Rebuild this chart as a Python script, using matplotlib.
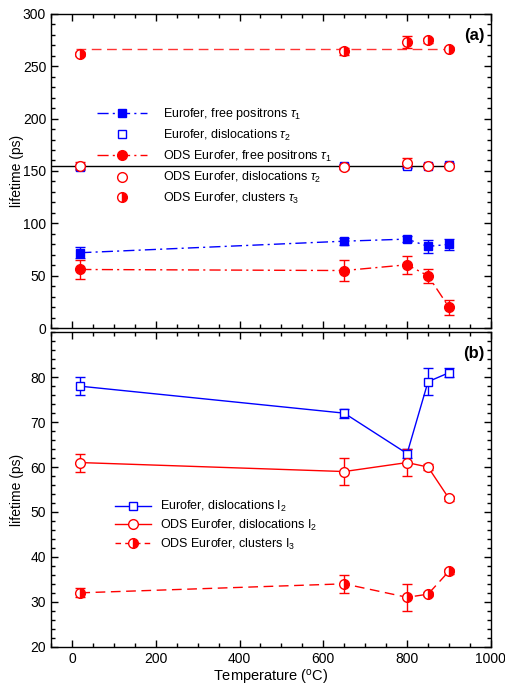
import matplotlib
matplotlib.use('Agg')
import matplotlib.pyplot as plt
from matplotlib.lines import Line2D
from matplotlib.ticker import MultipleLocator

plt.rcParams['font.family'] = ['Liberation Sans', 'DejaVu Sans']
plt.rcParams['mathtext.fontset'] = 'custom'
plt.rcParams['mathtext.rm'] = 'Liberation Sans'
plt.rcParams['mathtext.it'] = 'Liberation Sans:italic'
plt.rcParams['font.size'] = 10

# ---- data ----
temps = [20, 650, 800, 850, 900]

# panel (a): lifetimes (ps)
eu_tau1 = [72, 83, 85, 78, 80]
eu_tau1_err = [5, 3.5, 2.5, 6, 5]
eu_tau2 = [154, 155, 154.5, 155, 156]
eu_tau2_err = [2, 1.5, 2, 1.5, 1.5]
ods_tau1 = [56, 55, 60.5, 50, 20]
ods_tau1_err = [9, 10, 8.5, 6.5, 7]
ods_tau2 = [155, 154, 158, 155, 155]
ods_tau2_err = [4, 2, 4, 1.5, 1]
ods_tau3 = [261.5, 264, 273, 274.5, 266.5]
ods_tau3_err = [2, 3, 5.5, 2, 1.5]
tau2_mean = 155.2
tau3_mean = 266.7

# panel (b): intensities
eu_I2 = [78, 72, 63, 79, 81]
eu_I2_err = [2, 1, 1, 3, 1]
ods_I2 = [61, 59, 61, 60, 53]
ods_I2_err = [2, 3, 3, 0.7, 0.5]
ods_I3 = [32, 34, 31, 31.7, 36.8]
ods_I3_err = [1, 2, 3, 0.5, 0.6]

BLUE = '#0000ff'
RED = '#ff0000'
DASHDOT = (0, (8, 3, 1.5, 3))
DASH = (0, (7, 4))

fig = plt.figure(figsize=(5.05, 6.88), dpi=100)
ax1 = fig.add_axes([0.101, 0.523, 0.871, 0.457])
ax2 = fig.add_axes([0.101, 0.060, 0.871, 0.457])

eb = dict(capsize=3.5, elinewidth=1, capthick=1)

# ---- panel (a) ----
ax1.plot([-50, 910], [tau2_mean] * 2, color='black', lw=1, zorder=1)
ax1.plot([10, 910], [tau3_mean] * 2, color=RED, lw=1, ls=DASH, alpha=0.8, zorder=1)

ax1.errorbar(temps, eu_tau1, yerr=eu_tau1_err, color=BLUE, marker='s', ms=6,
             lw=1, ls=DASHDOT, ecolor=BLUE, **eb)
ax1.errorbar(temps, eu_tau2, yerr=eu_tau2_err, color=BLUE, marker='s', ms=6,
             mfc='white', ls='none', ecolor=BLUE, **eb)
ax1.errorbar(temps, ods_tau1, yerr=ods_tau1_err, color=RED, marker='o', ms=7,
             lw=1, ls=DASHDOT, ecolor=RED, **eb)
ax1.errorbar(temps, ods_tau2, yerr=ods_tau2_err, color=RED, marker='o', ms=7,
             mfc='white', ls='none', ecolor=RED, **eb)
ax1.errorbar(temps, ods_tau3, yerr=ods_tau3_err, color=RED, marker='o', ms=7,
             fillstyle='right', markerfacecoloralt='white', ls='none', ecolor=RED, **eb)

ax1.set_xlim(-50, 1000)
ax1.set_ylim(0, 300)
ax1.set_ylabel('lifetime (ps)')
ax1.yaxis.set_major_locator(MultipleLocator(50))
ax1.yaxis.set_minor_locator(MultipleLocator(10))
ax1.tick_params(labelbottom=False)
ax1.text(0.985, 0.955, '(a)', transform=ax1.transAxes, ha='right', va='top',
         fontsize=12, fontweight='bold')

h1 = [Line2D([], [], color=BLUE, marker='s', ms=6, lw=1, ls=DASHDOT),
      Line2D([], [], color=BLUE, marker='s', ms=6, mfc='white', ls='none'),
      Line2D([], [], color=RED, marker='o', ms=7, lw=1, ls=DASHDOT),
      Line2D([], [], color=RED, marker='o', ms=7, mfc='white', ls='none'),
      Line2D([], [], color=RED, marker='o', ms=7, fillstyle='right',
             markerfacecoloralt='white', ls='none')]
ax1.legend(h1,
           [r'Eurofer, free positrons $\tau_1$',
            r'Eurofer, dislocations $\tau_2$',
            r'ODS Eurofer, free positrons $\tau_1$',
            r'ODS Eurofer, dislocations $\tau_2$',
            r'ODS Eurofer, clusters $\tau_3$'],
           loc='upper left', bbox_to_anchor=(97 / 505, 1 - 106 / 688),
           bbox_transform=fig.transFigure, frameon=False, fontsize=9,
           handlelength=4.0, handletextpad=1.3, labelspacing=0.45,
           borderpad=0, borderaxespad=0)

# ---- panel (b) ----
ax2.errorbar(temps, eu_I2, yerr=eu_I2_err, color=BLUE, marker='s', ms=6,
             mfc='white', lw=1, ecolor=BLUE, **eb)
ax2.errorbar(temps, ods_I2, yerr=ods_I2_err, color=RED, marker='o', ms=7,
             mfc='white', lw=1, ecolor=RED, **eb)
ax2.errorbar(temps, ods_I3, yerr=ods_I3_err, color=RED, marker='o', ms=7,
             fillstyle='right', markerfacecoloralt='white', lw=1,
             ls=DASH, ecolor=RED, **eb)

ax2.set_xlim(-50, 1000)
ax2.set_ylim(20, 90)
ax2.set_yticks([20, 30, 40, 50, 60, 70, 80])
ax2.yaxis.set_minor_locator(MultipleLocator(2))
ax2.set_ylabel('lifetime (ps)')
ax2.set_xlabel(r'Temperature ($^{\rm o}$C)', fontsize=10.5, labelpad=2)
ax2.text(0.985, 0.955, '(b)', transform=ax2.transAxes, ha='right', va='top',
         fontsize=12, fontweight='bold')

h2 = [Line2D([], [], color=BLUE, marker='s', ms=6, mfc='white', lw=1),
      Line2D([], [], color=RED, marker='o', ms=7, mfc='white', lw=1),
      Line2D([], [], color=RED, marker='o', ms=7, fillstyle='right',
             markerfacecoloralt='white', lw=1, ls=(0, (4, 3)))]
ax2.legend(h2,
           [r'Eurofer, dislocations I$_2$',
            r'ODS Eurofer, dislocations I$_2$',
            r'ODS Eurofer, clusters I$_3$'],
           loc='upper left', bbox_to_anchor=(115 / 505, 1 - 499 / 688),
           bbox_transform=fig.transFigure, frameon=False, fontsize=9,
           handlelength=2.9, handletextpad=0.7, labelspacing=0.3,
           borderpad=0, borderaxespad=0)

for ax in (ax1, ax2):
    ax.yaxis.set_label_coords(-0.062, 0.5)
    ax.xaxis.set_major_locator(MultipleLocator(200))
    ax.xaxis.set_minor_locator(MultipleLocator(50))
    ax.tick_params(which='both', direction='in', top=True, right=True)
    ax.tick_params(which='major', length=5, width=1)
    ax.tick_params(which='minor', length=3, width=1)
    for s in ax.spines.values():
        s.set_linewidth(1)

fig.savefig('out.png', dpi=100)
